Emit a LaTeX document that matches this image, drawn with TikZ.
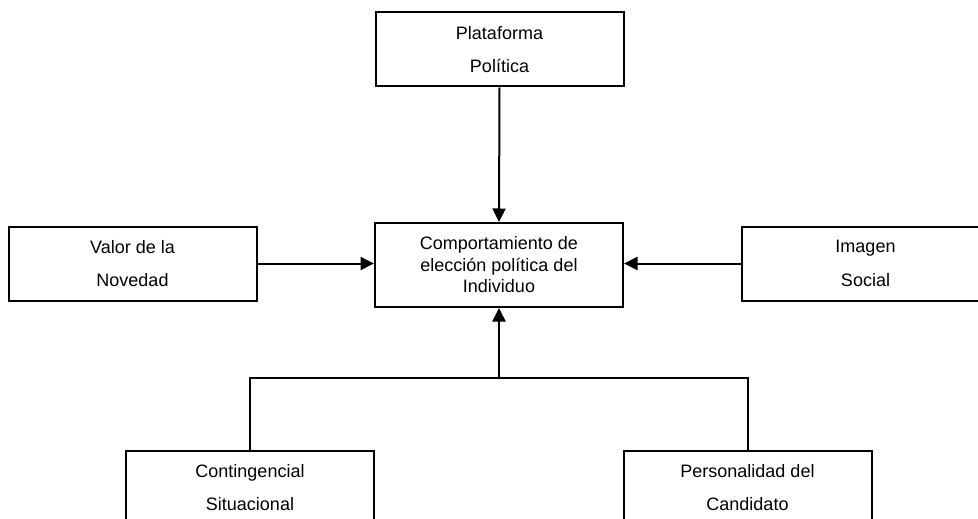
\documentclass[tikz,border=0pt]{standalone}
\usepackage{fontspec}
\setmainfont{Liberation Sans}
\usetikzlibrary{arrows.meta}
\begin{document}
\begin{tikzpicture}[x=1pt,y=-1pt,
  box/.style={draw,line width=2pt,minimum width=248pt,minimum height=74pt,
    inner sep=0pt,align=center,font=\fontsize{18}{33.5}\selectfont},
  centerbox/.style={box,minimum height=84pt,font=\fontsize{18}{21.5}\selectfont},
  link/.style={line width=2pt},
  arrow/.style={link,-{Triangle[length=13.5pt,width=13pt]}}]
\useasboundingbox (0,0) rectangle (978,519);
\clip (0,0) rectangle (978,519);
\node[box] (plat) at (499.5,49.5) {Plataforma\\Política};
\node[centerbox] (comp) at (499,265) {Comportamiento de\\elección política del\\Individuo};
\node[box] (valor) at (132.5,263.5) {Valor de la\\Novedad};
\node[box] (imagen) at (865.5,263.5) {Imagen\\Social};
\node[box] (cont) at (250,487.5) {Contingencial\\Situacional};
\node[box] (pers) at (747.5,487.5) {Personalidad del\\Candidato};
\coordinate (join) at (499,378);
\draw[arrow] (plat.south) -- (comp.north);
\draw[arrow] (valor.east) -- (valor.east -| comp.west);
\draw[arrow] (imagen.west) -- (imagen.west -| comp.east);
\draw[link] (cont.north) |- (join) -| (pers.north);
\draw[arrow] (join) -- (comp.south);
\end{tikzpicture}
\end{document}
